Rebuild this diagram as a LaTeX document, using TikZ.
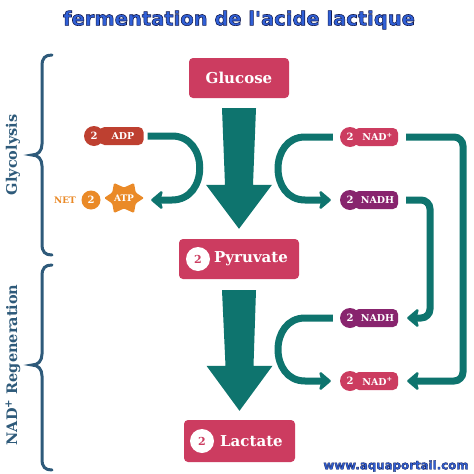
\documentclass[tikz,border=0pt]{standalone}
\usepackage{fontspec}
\setmainfont{DejaVu Serif}
\newfontfamily\titleout{DejaVu Sans Bold}[FakeBold=3]
\usetikzlibrary{arrows.meta,calc}
\definecolor{crimson}{RGB}{204,60,96}
\definecolor{tealc}{RGB}{14,116,110}
\definecolor{adpred}{RGB}{190,64,48}
\definecolor{atporange}{RGB}{234,138,40}
\definecolor{nadhpurple}{RGB}{136,36,110}
\definecolor{slate}{RGB}{46,90,122}
\definecolor{titleblue}{RGB}{48,96,216}
\definecolor{navy}{RGB}{20,28,80}
\newcommand\outlinedtext[1]{{\color{titleblue}\special{pdf:literal direct 0.078 0.11 0.314 RG}#1}}
\tikzset{
  bigbox/.style={fill=crimson, rounded corners=4pt, inner sep=0pt, minimum height=40pt},
  bigtext/.style={text=white, font=\bfseries\fontsize{15}{16}\selectfont, inner sep=0pt},
  whitenum/.style={circle, fill=white, text=crimson, minimum size=24pt, inner sep=0pt, font=\bfseries\fontsize{11}{12}\selectfont},
  pillbox/.style={fill=#1, rounded corners=5pt, text=white, minimum width=44pt, minimum height=18pt, inner sep=0pt, font=\bfseries\fontsize{9.5}{10}\selectfont},
  pillnum/.style={circle, fill=#1, text=white, minimum size=20pt, inner sep=0pt, font=\bfseries\fontsize{10}{10}\selectfont},
  flow/.style={draw=tealc, line width=7pt, -{Stealth[length=13pt,width=22pt,inset=3pt,round]}},
  bigarrow/.style={fill=tealc},
  bracestyle/.style={draw=slate, line width=3pt, line cap=round},
  sidelabel/.style={text=slate, rotate=90, font=\bfseries\fontsize{14.5}{16}\selectfont, inner sep=0pt},
  titletext/.style={font=\titleout\fontsize{19.5}{21}\selectfont, inner sep=0pt},
  webtext/.style={font=\titleout\fontsize{11.8}{13}\selectfont, inner sep=0pt}
}
\begin{document}
\begin{tikzpicture}[x=1pt,y=-1pt]
\useasboundingbox (0,0) rectangle (474,474);
\fill[white] (0,0) rectangle (474,474);

% title
\node[titletext] (title) at (239,20) {\outlinedtext{fermentation de l'acide lactique}};

% main boxes
\node[bigbox, minimum width=100pt] (glucose) at (239,78) {};
\node[bigtext] (glucosetext) at (239,78) {Glucose};

\node[bigbox, minimum width=120pt] (pyruvate) at (239,259) {};
\node[whitenum] (pyr2) at (198,259) {2};
\node[bigtext, anchor=west] (pyrtext) at (214,259) {Pyruvate};

\node[bigbox, minimum width=111pt, minimum height=42pt] (lactate) at (239.5,441) {};
\node[whitenum] (lac2) at (202,441) {2};
\node[bigtext, anchor=west] (lactext) at (220,441) {Lactate};

% big arrows
\fill[bigarrow] ($(glucose.south)+(-17,10)$) -- ($(glucose.south)+(17,10)$) -- ($(pyruvate.north)+(14,-54)$) -- ($(pyruvate.north)+(33,-54)$) -- ($(pyruvate.north)+(0,-10)$) -- ($(pyruvate.north)+(-33,-54)$) -- ($(pyruvate.north)+(-14,-54)$) -- cycle;
\fill[bigarrow] ($(pyruvate.south)+(-17,11)$) -- ($(pyruvate.south)+(17,11)$) -- ($(lactate.north)+(14,-54)$) -- ($(lactate.north)+(33,-54)$) -- ($(lactate.north)+(0,-9)$) -- ($(lactate.north)+(-33,-54)$) -- ($(lactate.north)+(-14,-54)$) -- cycle;

% ADP pill
\node[pillbox=adpred] (adp) at (121.5,136) {\hspace*{3pt}ADP};
\node[pillnum=adpred] (adpn) at (94,136) {2};

% NET 2 ATP
\node[text=atporange, font=\bfseries\fontsize{9}{10}\selectfont, inner sep=0pt] (net) at (65,200) {NET};
\node[pillnum=atporange, minimum size=19pt] (atpn) at (91,200) {2};
\fill[atporange, rounded corners=1.2pt] (144,198) -- (135.7,203.5) -- (134,213) -- (124,208.5) -- (114,213) -- (112.3,203.5) -- (104,198) -- (112.3,192.5) -- (114,183) -- (124,187.5) -- (134,183) -- (135.7,192.5) -- cycle;
\node[text=white, font=\bfseries\fontsize{9}{10}\selectfont, inner sep=0pt, minimum width=40pt] (atp) at (124,198) {ATP};

% NAD / NADH pills
\node[pillbox=crimson] (nad1) at (376,137) {\hspace*{3pt}NAD\textsuperscript{+}};
\node[pillnum=crimson] (nad1n) at (350,137) {2};
\node[pillbox=nadhpurple] (nadh1) at (376,200) {\hspace*{3pt}NADH};
\node[pillnum=nadhpurple] (nadh1n) at (350,200) {2};
\node[pillbox=nadhpurple] (nadh2) at (376,318) {\hspace*{3pt}NADH};
\node[pillnum=nadhpurple] (nadh2n) at (350,318) {2};
\node[pillbox=crimson] (nad2) at (376,381) {\hspace*{3pt}NAD\textsuperscript{+}};
\node[pillnum=crimson] (nad2n) at (350,381) {2};

% curved flows
\draw[flow] ($(adp.east)+(4,0)$) -- (172,136) .. controls (209,136) and (209,200) .. (172,200) -- ($(atp.east)+(7,2)$);
\draw[flow] ($(nad1n.west)+(-7,0)$) -- (305,137) .. controls (269,137) and (269,200) .. (305,200) -- ($(nadh1n.west)+(-9,0)$);
\draw[flow] ($(nadh2n.west)+(-7,0)$) -- (305,318) .. controls (269,318) and (269,381) .. (305,381) -- ($(nad2n.west)+(-9,0)$);
\draw[flow, rounded corners=9pt] ($(nad1.east)+(8,0)$) -- (463,137) -- (463,381) -- ($(nad2.east)+(9,0)$);
\draw[flow, rounded corners=9pt] ($(nadh1.east)+(8,0)$) -- (430,200) -- (430,318) -- ($(nadh2.east)+(9,0)$);

% braces
\draw[bracestyle] (52,55) .. controls (45,55) and (42,58) .. (42,66) -- (42,144) .. controls (42,151) and (38,155) .. (32,155) .. controls (38,155) and (42,159) .. (42,166) -- (42,244) .. controls (42,252) and (45,255) .. (52,255);
\draw[bracestyle] (52,265) .. controls (45,265) and (42,268) .. (42,276) -- (42,354) .. controls (42,361) and (38,365) .. (32,365) .. controls (38,365) and (42,369) .. (42,376) -- (42,459) .. controls (42,467) and (45,470) .. (52,470);
\node[sidelabel] (glyco) at (13,155) {Glycolysis};
\node[sidelabel] (nadreg) at (13,365) {NAD\textsuperscript{+} Regeneration};

% website
\node[webtext] (www) at (396,466) {\outlinedtext{www.aquaportail.com}};
\end{tikzpicture}
\end{document}
